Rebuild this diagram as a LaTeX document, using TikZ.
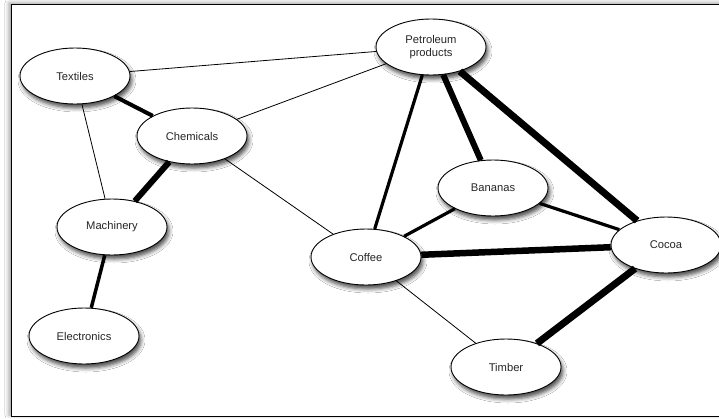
\documentclass[tikz,border=0pt]{standalone}
\usepackage{fontspec}
\setmainfont{Liberation Sans}
\usetikzlibrary{shapes.geometric,shadows.blur}
\begin{document}
\begin{tikzpicture}[x=1pt,y=-1pt,
  good/.style={ellipse,draw=black,line width=0.9pt,fill=white,
    minimum width=110pt,minimum height=56pt,inner sep=0pt,
    font=\fontsize{11.2}{12.5}\selectfont,text=black!85,align=center,
    blur shadow={shadow xshift=2pt,shadow yshift=-4pt,
      shadow blur radius=4pt,shadow opacity=70}},
  tie/.style={draw=black,line width=#1},
  tie/.default=0.8pt]
  % page and frame
  \fill[white] (0,0) rectangle (719,418);
  \useasboundingbox (0,0) rectangle (719,418);
  \draw[line width=1pt,fill=white,
    blur shadow={shadow xshift=-2pt,shadow yshift=1pt,
      shadow blur radius=4pt,shadow opacity=40}]
    (11,4) rectangle (740,416);

  % goods
  \node[good] (tex) at (75,76)  {Textiles};
  \node[good] (pet) at (431,47) {Petroleum\\products};
  \node[good] (che) at (192,136) {Chemicals};
  \node[good] (mac) at (112,227) {Machinery};
  \node[good] (ele) at (84,336) {Electronics};
  \node[good] (cof) at (366,257) {Coffee};
  \node[good] (ban) at (493,188) {Bananas};
  \node[good] (coc) at (666,245) {Cocoa};
  \node[good] (tim) at (506,367) {Timber};

  % links, width by strength
  \draw[tie] (tex) -- (pet);
  \draw[tie=4pt] (tex) -- (che);
  \draw[tie] (tex) -- (mac);
  \draw[tie] (che) -- (pet);
  \draw[tie=6pt] (che) -- (mac);
  \draw[tie] (che) -- (cof);
  \draw[tie=3.5pt] (mac) -- (ele);
  \draw[tie=3.2pt] (pet) -- (cof);
  \draw[tie=6pt] (pet) -- (ban);
  \draw[tie=7pt] (pet) -- (coc);
  \draw[tie=3.2pt] (ban) -- (cof);
  \draw[tie=3.2pt] (ban) -- (coc);
  \draw[tie=6.5pt] (cof) -- (coc);
  \draw[tie] (cof) -- (tim);
  \draw[tie=7pt] (coc) -- (tim);
\end{tikzpicture}
\end{document}
